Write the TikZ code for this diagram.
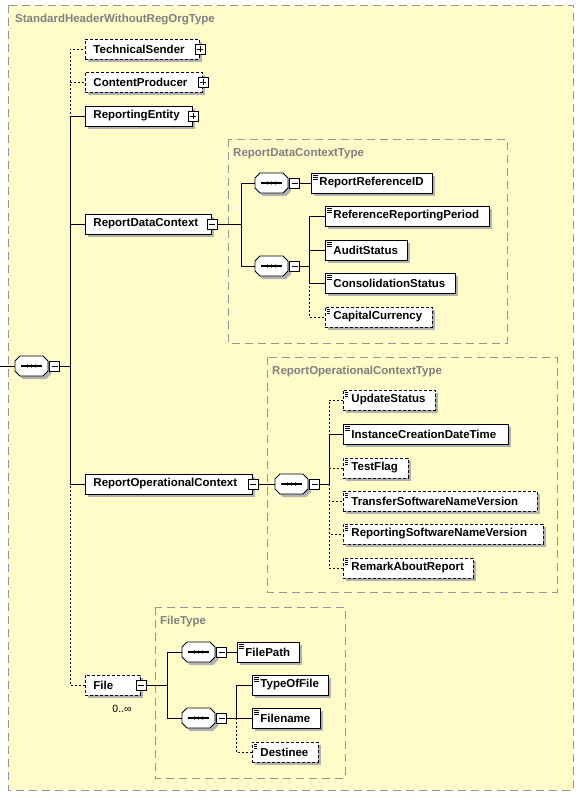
\documentclass[tikz,border=0pt]{standalone}
\usepackage{fontspec}
\setmainfont{Liberation Sans}
\usepackage{tikz}
\usetikzlibrary{shapes.misc,shadows,positioning,calc}

\definecolor{xsdbg}{RGB}{255,252,202}
\definecolor{boxgray}{RGB}{150,150,150}
\definecolor{titlegray}{RGB}{128,128,128}
\definecolor{shadowgray}{RGB}{178,178,178}

\tikzset{
    elem/.style={rectangle, draw, fill=white, line width=0.9pt, minimum height=20pt,
        inner xsep=8pt, inner ysep=0pt, align=left, anchor=west,
        font=\fontsize{11.5}{13}\selectfont\bfseries,
        drop shadow={shadow xshift=3pt, shadow yshift=-3pt, fill=shadowgray, opacity=1}},
    optelem/.style={elem, dash pattern=on 3pt off 2pt},
    simple/.style={path picture={\foreach \k in {2.5,4.5,6.5}
        \draw[line width=0.6pt] ([xshift=2pt,yshift=-\k pt]path picture bounding box.north west) -- ++(5pt,0);}},
    seqbase/.style={rectangle, minimum width=33pt, minimum height=20pt, inner sep=0pt, anchor=west},
    minusbox/.style={rectangle, draw, fill=white, line width=0.8pt, minimum size=10pt, inner sep=0pt,
        path picture={\draw[line width=0.8pt] ([xshift=2pt]path picture bounding box.west) -- ([xshift=-2pt]path picture bounding box.east);}},
    plusbox/.style={rectangle, draw, fill=white, line width=0.8pt, minimum size=10pt, inner sep=0pt,
        path picture={\draw[line width=0.8pt] ([xshift=2pt]path picture bounding box.west) -- ([xshift=-2pt]path picture bounding box.east);
            \draw[line width=0.8pt] ([yshift=-2pt]path picture bounding box.north) -- ([yshift=2pt]path picture bounding box.south);}},
    conn/.style={line width=1pt},
    optconn/.style={line width=1pt, dash pattern=on 2pt off 2pt},
    typebox/.style={draw=boxgray, line width=1pt, dash pattern=on 8pt off 5pt},
    typetitle/.style={anchor=west, inner sep=0pt, text=titlegray, font=\fontsize{11.5}{13}\selectfont\bfseries}
}

% sequence compositor: octagon with a line and three dots
\newcommand{\seqnode}[2]{%
    \node[seqbase] (#1) at (#2) {};
    \begin{scope}[shift={(#1.west)}]
        \fill[shadowgray, xshift=3pt, yshift=-3pt] (0,-5) -- (5,-10) -- (28,-10) -- (33,-5) -- (33,5) -- (28,10) -- (5,10) -- (0,5) -- cycle;
        \draw[fill=white, line width=0.9pt] (0,-5) -- (5,-10) -- (28,-10) -- (33,-5) -- (33,5) -- (28,10) -- (5,10) -- (0,5) -- cycle;
        \draw[line width=1.2pt] (6,0) -- (27,0);
        \foreach \k in {12.5,16.5,20.5} \fill (\k,0) circle (1.7pt);
    \end{scope}}

\begin{document}
\begin{tikzpicture}[x=1pt,y=-1pt]
    \useasboundingbox (0,0) rectangle (581,798);

    % type boxes
    \draw[typebox, fill=xsdbg] (8,5) rectangle (573,790);
    \node[typetitle] (hdr-t) at (15,20) {StandardHeaderWithoutRegOrgType};
    \draw[typebox] (228,139) rectangle (507,343);
    \node[typetitle] (rdc-t) at (233,154) {ReportDataContextType};
    \draw[typebox] (267,357) rectangle (557,592);
    \node[typetitle] (roc-t) at (272,372) {ReportOperationalContextType};
    \draw[typebox] (155,607) rectangle (345,778);
    \node[typetitle] (file-t) at (160,622) {FileType};

    % root sequence
    \coordinate (root) at (0,366);
    \seqnode{seq0}{15,366}
    \node[minusbox, right=1pt of seq0] (seq0-x) {};

    \node[optelem, text width=98pt] (ts) at (85,49) {TechnicalSender};
    \node[plusbox] (ts-x) at (ts.east) {};
    \node[optelem, text width=101pt] (cp) at (85,82) {ContentProducer};
    \node[plusbox] (cp-x) at (cp.east) {};
    \node[elem, text width=91pt] (re) at (85,116) {ReportingEntity};
    \node[plusbox] (re-x) at (re.east) {};
    \node[elem, text width=110pt] (rdc) at (85,224) {ReportDataContext};
    \node[minusbox] (rdc-x) at (rdc.east) {};
    \node[elem, text width=151pt] (roc) at (85,484) {ReportOperationalContext};
    \node[minusbox] (roc-x) at (roc.east) {};
    \node[optelem, text width=39pt] (file) at (85,685) {File};
    \node[minusbox] (file-x) at (file.east) {};
    \node[font=\fontsize{10.5}{12}\selectfont] (file-occ) at (122,709) {0..∞};

    % ReportDataContextType
    \seqnode{seq1}{255,183}
    \node[minusbox, right=1pt of seq1] (seq1-x) {};
    \node[elem, simple, text width=105pt] (rrid) at (311,183) {ReportReferenceID};
    \seqnode{seq2}{255,266}
    \node[minusbox, right=1pt of seq2] (seq2-x) {};
    \node[elem, simple, text width=148pt] (rrp) at (325,216) {ReferenceReportingPeriod};
    \node[elem, simple, text width=66pt] (aud) at (325,250) {AuditStatus};
    \node[elem, simple, text width=114pt] (cons) at (325,283) {ConsolidationStatus};
    \node[optelem, simple, text width=91pt] (cap) at (325,317) {CapitalCurrency};

    % ReportOperationalContextType
    \seqnode{seq3}{275,484}
    \node[minusbox, right=1pt of seq3] (seq3-x) {};
    \node[optelem, simple, text width=76pt] (upd) at (343,400) {UpdateStatus};
    \node[elem, simple, text width=149pt] (icdt) at (343,434) {InstanceCreationDateTime};
    \node[optelem, simple, text width=49pt] (tst) at (343,468) {TestFlag};
    \node[optelem, simple, text width=178pt] (tsnv) at (343,501) {TransferSoftwareNameVersion};
    \node[optelem, simple, text width=184pt] (rsnv) at (343,534) {ReportingSoftwareNameVersion};
    \node[optelem, simple, text width=114pt] (rar) at (343,568) {RemarkAboutReport};

    % FileType
    \seqnode{seq4}{182,652}
    \node[minusbox, right=1pt of seq4] (seq4-x) {};
    \node[elem, simple, text width=46pt] (fpath) at (237,652) {FilePath};
    \seqnode{seq5}{182,718}
    \node[minusbox, right=1pt of seq5] (seq5-x) {};
    \node[elem, simple, text width=60pt] (ftype) at (252,685) {TypeOfFile};
    \node[elem, simple, text width=52pt] (fname) at (252,718) {Filename};
    \node[optelem, simple, text width=50pt] (fdest) at (252,752) {Destinee};

    % connectors
    \draw[conn] (root) -- (seq0.west);
    \draw[conn] (seq0-x.east) -- ++(10,0) coordinate (bus0);
    \draw[optconn] (bus0) |- (ts.west);
    \draw[optconn] (bus0) |- (cp.west);
    \draw[conn] (bus0) |- (re.west);
    \draw[conn] (bus0) |- (rdc.west);
    \draw[conn] (bus0) |- (roc.west);
    \draw[optconn] (bus0) |- (file.west);

    \draw[conn] (rdc-x.east) -- ++(24,0) coordinate (bus1);
    \draw[conn] (bus1) |- (seq1.west);
    \draw[conn] (bus1) |- (seq2.west);
    \draw[conn] (seq1-x.east) -- (rrid.west);
    \draw[conn] (seq2-x.east) -- ++(9,0) coordinate (bus2);
    \draw[conn] (bus2) |- (rrp.west);
    \draw[conn] (bus2) |- (aud.west);
    \draw[conn] (bus2) |- (cons.west);
    \draw[optconn] (bus2) |- (cap.west);

    \draw[conn] (roc-x.east) -- (seq3.west);
    \draw[conn] (seq3-x.east) -- ++(9,0) coordinate (bus3);
    \draw[optconn] (bus3) |- (upd.west);
    \draw[conn] (bus3) |- (icdt.west);
    \draw[optconn] (bus3) |- (tst.west);
    \draw[optconn] (bus3) |- (tsnv.west);
    \draw[optconn] (bus3) |- (rsnv.west);
    \draw[optconn] (bus3) |- (rar.west);

    \draw[conn] (file-x.east) -- ++(21,0) coordinate (bus4);
    \draw[conn] (bus4) |- (seq4.west);
    \draw[conn] (bus4) |- (seq5.west);
    \draw[conn] (seq4-x.east) -- (fpath.west);
    \draw[conn] (seq5-x.east) -- ++(9,0) coordinate (bus5);
    \draw[conn] (bus5) |- (ftype.west);
    \draw[conn] (bus5) |- (fname.west);
    \draw[optconn] (bus5) |- (fdest.west);
\end{tikzpicture}
\end{document}
